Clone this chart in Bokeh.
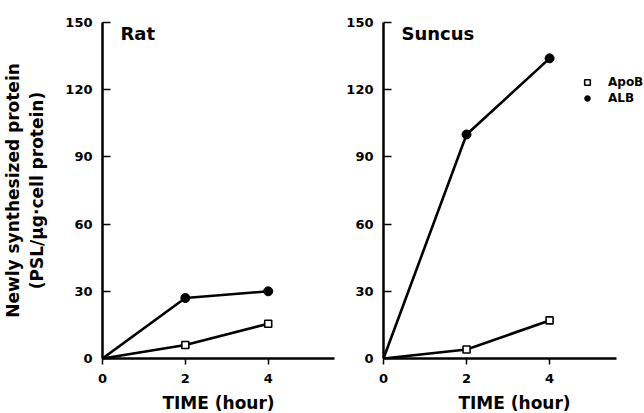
from bokeh.plotting import figure
from bokeh.layouts import row
from bokeh.models import FixedTicker, Label, Legend, LegendItem, Range1d
from bokeh.embed import file_html
from bokeh.resources import INLINE

# ---- data ----
time = [0, 2, 4]
rat_apob = [0, 6, 15.5]
rat_alb = [0, 27, 30]
suncus_apob = [0, 4, 17]
suncus_alb = [0, 100, 134]
y_ticks = [0, 30, 60, 90, 120, 150]
x_ticks = [0, 2, 4]
series_names = ["ApoB", "ALB"]
panel_titles = ["Rat", "Suncus"]
x_label = "TIME (hour)"
y_label = "Newly synthesized protein\n(PSL/\u03bcg\u00b7cell protein)"

FONT = "DejaVu Sans"
PX_PER_HOUR = 41.5


def make_panel(title, apob, alb, left, right, x_end):
    fw = int(round(x_end * PX_PER_HOUR))
    p = figure(frame_width=fw, frame_height=336,
               x_range=Range1d(0, x_end), y_range=Range1d(0, 150),
               output_backend="svg", toolbar_location=None,
               min_border_left=left, min_border_right=right,
               min_border_top=22, min_border_bottom=40)
    p.outline_line_color = None
    p.grid.visible = False
    p.background_fill_color = "white"
    p.border_fill_color = "white"

    for ax in (p.xaxis[0], p.yaxis[0]):
        ax.axis_line_width = 2.5
        ax.axis_line_color = "black"
        ax.major_tick_line_width = 1.5
        ax.major_tick_line_color = "black"
        ax.minor_tick_line_color = None
        ax.major_label_text_font = FONT
        ax.major_label_text_font_style = "bold"
        ax.major_label_text_font_size = "13px"
        ax.major_label_text_color = "black"

    p.xaxis.ticker = FixedTicker(ticks=x_ticks)
    p.xaxis.bounds = (0, 5.6)
    p.yaxis.ticker = FixedTicker(ticks=y_ticks)
    p.xaxis.major_tick_in = 0
    p.xaxis.major_tick_out = 6
    p.xaxis.major_label_standoff = 9
    p.yaxis.major_tick_in = 8
    p.yaxis.major_tick_out = 0
    p.yaxis.major_label_standoff = 10

    p.xaxis.axis_label = x_label
    p.xaxis.axis_label_text_font = FONT
    p.xaxis.axis_label_text_font_style = "bold"
    p.xaxis.axis_label_text_font_size = "17px"
    p.xaxis.axis_label_text_color = "black"
    p.xaxis.axis_label_standoff = 7

    p.line(time, alb, line_color="black", line_width=2.6)
    p.line(time, apob, line_color="black", line_width=2.6)
    r_apob = p.scatter(time[1:], apob[1:], marker="square", size=7,
                       fill_color="white", line_color="black", line_width=1.6)
    r_alb = p.scatter(time[1:], alb[1:], marker="circle", size=9,
                      fill_color="black", line_color="black")

    p.add_layout(Label(x=18, y=325, x_units="screen", y_units="screen",
                       text=title, text_font=FONT, text_font_style="bold",
                       text_font_size="18px", text_baseline="middle",
                       text_color="black"))
    return p, r_apob, r_alb


p1, _, _ = make_panel(panel_titles[0], rat_apob, rat_alb, 60, 4, 5.6)
p2, r_apob, r_alb = make_panel(panel_titles[1], suncus_apob, suncus_alb, 45, 0, 6.31)

# two-line y-axis label on left panel
p1.yaxis.axis_label = y_label
p1.yaxis.axis_label_text_font = FONT
p1.yaxis.axis_label_text_font_style = "bold"
p1.yaxis.axis_label_text_font_size = "17px"
p1.yaxis.axis_label_text_color = "black"
p1.yaxis.axis_label_standoff = 15
p1.yaxis.axis_label_text_align = "center"

legend = Legend(items=[LegendItem(label=series_names[0], renderers=[r_apob]),
                       LegendItem(label=series_names[1], renderers=[r_alb])],
                location=(197, 253), orientation="vertical",
                glyph_width=14, glyph_height=14, label_height=14,
                label_standoff=14, spacing=2, padding=0, margin=0,
                border_line_alpha=0, background_fill_alpha=0,
                label_text_font=FONT, label_text_font_style="bold",
                label_text_font_size="12px", label_text_color="black")
p2.add_layout(legend, "center")

layout = row(p1, p2)
open("out.html", "w").write(file_html(layout, INLINE))
